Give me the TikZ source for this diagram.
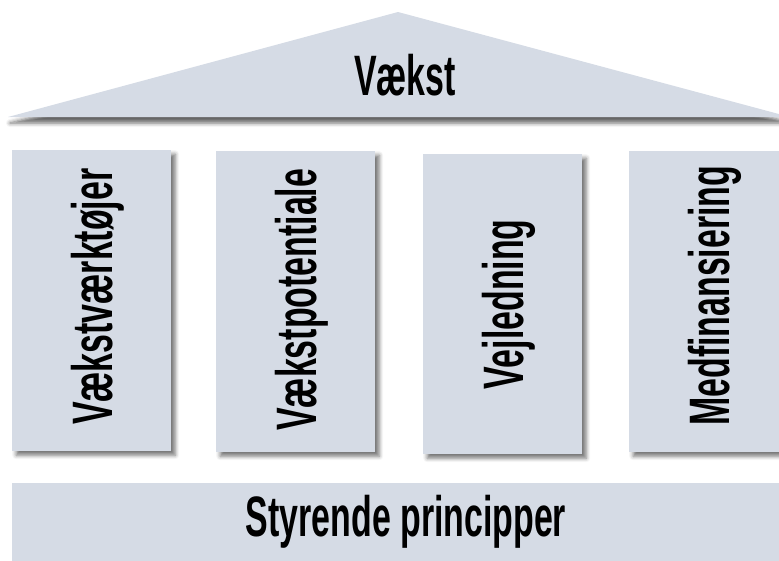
\documentclass[tikz,border=0pt]{standalone}
\usepackage{fontspec}
\setmainfont{Liberation Sans}
\usetikzlibrary{shadows.blur}
\definecolor{panel}{RGB}{213,219,229}
\newcommand\lbl[1]{\scalebox{0.595}[1]{\fontsize{57}{57}\selectfont\bfseries #1}}
\begin{document}
\begin{tikzpicture}[x=1pt,y=-1pt,
  boxshadow/.style={blur shadow={shadow xshift=4pt,shadow yshift=-4pt,shadow blur radius=4pt,shadow opacity=55}},
  pillar/.style={fill=panel,draw=none,anchor=north west,minimum width=159pt,minimum height=301pt,inner sep=0pt,boxshadow},
  vtext/.style={rotate=90,inner sep=0pt,anchor=center},
  htext/.style={inner sep=0pt,anchor=center}]
\useasboundingbox (0,0) rectangle (779,560);
\begin{scope}
\clip (0,0) rectangle (779,560);
% roof
\fill[panel,blur shadow={shadow xshift=2pt,shadow yshift=-6pt,shadow blur radius=4pt,shadow opacity=60}]
  (8,117) -- (398,12) -- (790,117) -- cycle;
\node[htext] (roof) at (405,75) {\lbl{Vækst}};
% pillars
\node[pillar] (p1) at (12,150) {};
\node[pillar] (p2) at (216,151) {};
\node[pillar,minimum height=300pt] (p3) at (423,154) {};
\node[pillar] (p4) at (629,151) {};
\node[vtext] (t1) at ([xshift=6pt,yshift=4pt]p1.center) {\lbl{Vækstværktøjer}};
\node[vtext] (t2) at ([xshift=6pt,yshift=2pt]p2.center) {\lbl{Vækstpotentiale}};
\node[vtext] (t3) at ([xshift=6pt]p3.center) {\lbl{Vejledning}};
\node[vtext] (t4) at ([xshift=6pt,yshift=6pt]p4.center) {\lbl{Medfinansiering}};
% base
\node[fill=panel,draw=none,anchor=north west,minimum width=790pt,minimum height=85pt,inner sep=0pt] (base) at (12,483) {};
\node[htext] (bt) at (406,522) {\lbl{Styrende principper}};
\end{scope}
\end{tikzpicture}
\end{document}
